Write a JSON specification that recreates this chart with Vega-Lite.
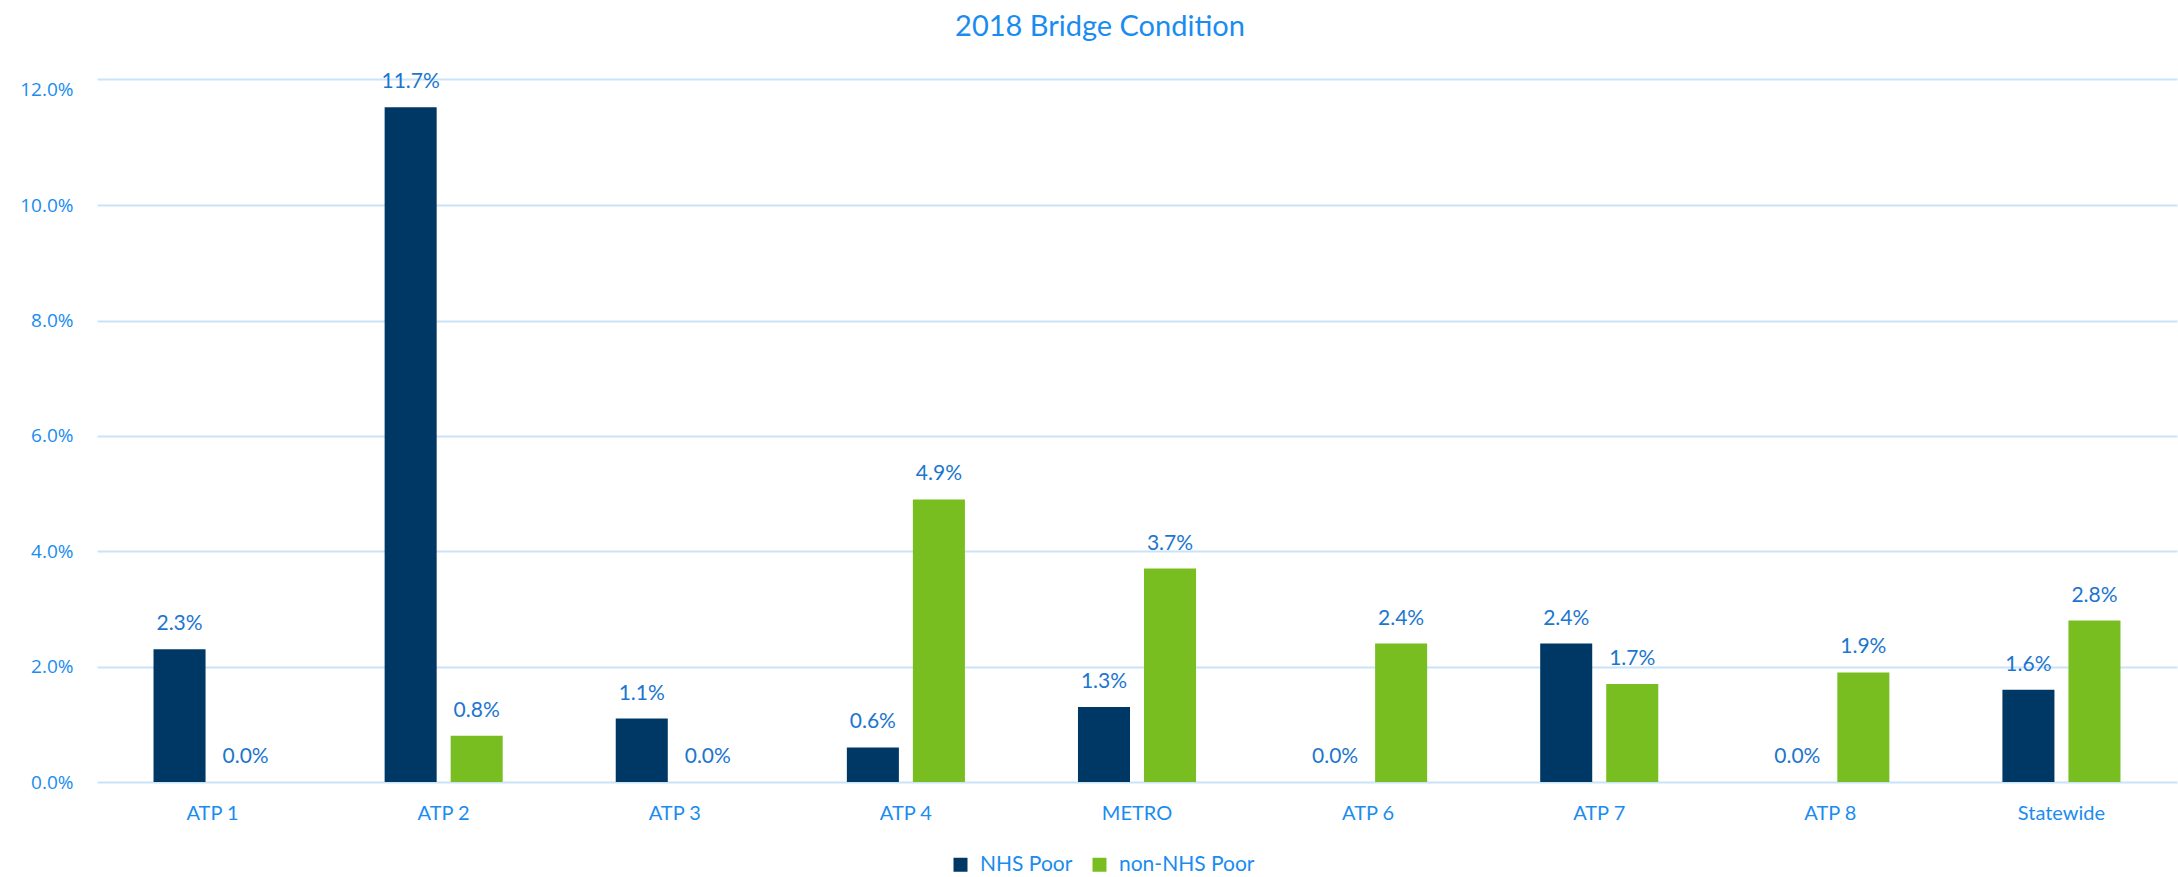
{
  "$schema": "https://vega.github.io/schema/vega-lite/v6.json",
  "width": 2080,
  "height": 703,
  "autosize": {"type": "none"},
  "padding": {"left": 97, "top": 79, "right": 1, "bottom": 95},
  "background": "white",
  "title": {"text": "2018 Bridge Condition", "font": "Lato", "fontSize": 29, "fontWeight": "normal", "color": "#1A8CF0", "anchor": "middle", "frame": "group", "offset": 29, "dx": -37},
  "config": {"view": {"stroke": null}},
  "resolve": {"axis": {"x": "independent"}},
  "data": {"values": [
    {"region": "ATP 1", "series": "NHS Poor", "value": 0.023},
    {"region": "ATP 1", "series": "non-NHS Poor", "value": 0.0},
    {"region": "ATP 2", "series": "NHS Poor", "value": 0.117},
    {"region": "ATP 2", "series": "non-NHS Poor", "value": 0.008},
    {"region": "ATP 3", "series": "NHS Poor", "value": 0.011},
    {"region": "ATP 3", "series": "non-NHS Poor", "value": 0.0},
    {"region": "ATP 4", "series": "NHS Poor", "value": 0.006},
    {"region": "ATP 4", "series": "non-NHS Poor", "value": 0.049},
    {"region": "METRO", "series": "NHS Poor", "value": 0.013},
    {"region": "METRO", "series": "non-NHS Poor", "value": 0.037},
    {"region": "ATP 6", "series": "NHS Poor", "value": 0.0},
    {"region": "ATP 6", "series": "non-NHS Poor", "value": 0.024},
    {"region": "ATP 7", "series": "NHS Poor", "value": 0.024},
    {"region": "ATP 7", "series": "non-NHS Poor", "value": 0.017},
    {"region": "ATP 8", "series": "NHS Poor", "value": 0.0},
    {"region": "ATP 8", "series": "non-NHS Poor", "value": 0.019},
    {"region": "Statewide", "series": "NHS Poor", "value": 0.016},
    {"region": "Statewide", "series": "non-NHS Poor", "value": 0.028}
  ]},
  "encoding": {
    "xOffset": {"field": "series", "type": "nominal", "sort": ["NHS Poor", "non-NHS Poor"],
      "scale": {"paddingInner": 0.212, "paddingOuter": 0.856}},
    "y": {"field": "value", "type": "quantitative",
      "scale": {"domain": [0, 0.1219], "nice": false, "zero": true},
      "axis": {"title": null, "format": ".1%", "values": [0, 0.02, 0.04, 0.06, 0.08, 0.1, 0.12], "domain": false, "ticks": false, "labelPadding": 24, "labelFont": "Open Sans", "labelFontSize": 19, "labelColor": "#1A8CF0",
        "gridColor": {"condition": {"test": "datum.value >= 0.119", "value": "transparent"}, "value": "#C9E4F8"}, "gridWidth": 2}}
  },
  "layer": [
    {"mark": {"type": "bar"},
     "encoding": {
       "x": {"field": "region", "type": "nominal", "sort": null,
         "scale": {"paddingInner": 0, "paddingOuter": 0},
         "axis": {"title": null, "domain": false, "ticks": false, "labelAngle": 0, "labelFont": "Lato", "labelFontSize": 20, "labelColor": "#1A8CF0", "labelPadding": 21}},
       "color": {"field": "series", "type": "nominal",
         "scale": {"domain": ["NHS Poor", "non-NHS Poor"], "range": ["#003865", "#78BE21"]},
         "legend": {"title": null, "orient": "none", "legendX": 853, "legendY": 775, "direction": "horizontal", "symbolType": "square", "symbolSize": 196, "symbolStrokeWidth": 0, "labelFont": "Lato", "labelFontSize": 21, "labelColor": "#1A8CF0", "labelOffset": 9, "columnPadding": 16}}
     }},
    {"mark": {"type": "text", "font": "Lato", "fontSize": 21, "color": "#1C76CF", "baseline": "alphabetic", "dy": -19},
     "encoding": {
       "x": {"field": "region", "type": "nominal", "sort": null,
         "axis": {"orient": "top", "title": null, "labels": false, "ticks": false, "grid": false, "domain": true, "domainColor": "#C9E4F8", "domainWidth": 2}},
       "text": {"field": "value", "type": "quantitative", "format": ".1%"}}}
  ]
}
